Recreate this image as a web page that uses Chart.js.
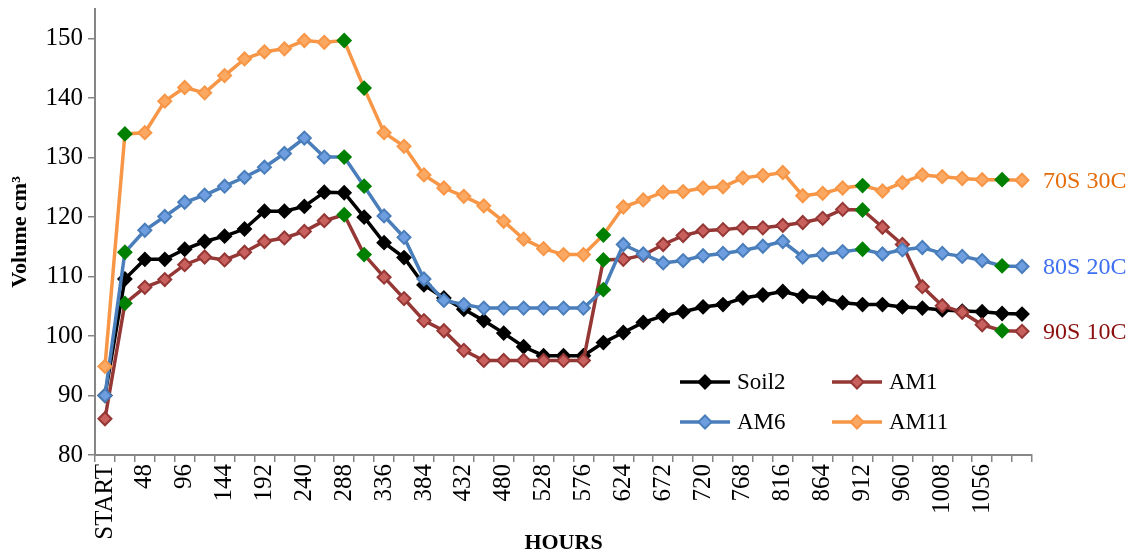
<!DOCTYPE html>
<html>
<head>
<meta charset="utf-8">
<script src="https://cdn.jsdelivr.net/npm/chart.js@4.4.1/dist/chart.umd.min.js"></script>
<style>
  body { margin: 0; background: #fff; }
  #wrap { width: 1141px; height: 557px; }
</style>
</head>
<body>
<div id="wrap"><canvas id="volumeChart" width="1141" height="557"></canvas></div>
<script>
// sampling times (every 24 h), last category has no label in the original
const hours = ['START', '24', '48', '72', '96', '120', '144', '168', '192', '216', '240', '264',
  '288', '312', '336', '360', '384', '408', '432', '456', '480', '504', '528', '552', '576',
  '600', '624', '648', '672', '696', '720', '744', '768', '792', '816', '840', '864', '888',
  '912', '936', '960', '984', '1008', '1032', '1056', '1080', ''];

const soil2 = [90, 109.6, 112.9, 112.9, 114.6, 115.9, 116.8, 118.0, 121.0, 121.0, 121.8, 124.2,
  124.1, 120.0, 115.7, 113.2, 108.6, 106.4, 104.5, 102.6, 100.5, 98.2, 96.7, 96.7, 96.7,
  98.9, 100.6, 102.3, 103.4, 104.1, 104.9, 105.3, 106.4, 106.9, 107.5, 106.7, 106.4, 105.6,
  105.3, 105.3, 104.9, 104.7, 104.4, 104.2, 104.1, 103.8, 103.7];

const am1 = [86.1, 105.5, 108.2, 109.5, 112.0, 113.3, 112.8, 114.1, 115.9, 116.5, 117.6, 119.4,
  120.4, 113.7, 109.9, 106.3, 102.6, 100.9, 97.6, 95.9, 95.9, 95.9, 95.9, 95.9, 95.9,
  112.8, 112.9, 113.6, 115.4, 116.9, 117.7, 117.9, 118.2, 118.2, 118.6, 119.1, 119.8, 121.3,
  121.2, 118.3, 115.4, 108.3, 105.1, 104.0, 101.9, 100.9, 100.8];

const am6 = [90, 114.1, 117.8, 120.1, 122.5, 123.7, 125.2, 126.7, 128.4, 130.7, 133.3, 130.1,
  130.1, 125.2, 120.2, 116.6, 109.6, 106.0, 105.3, 104.7, 104.7, 104.7, 104.7, 104.7, 104.7,
  107.8, 115.4, 113.8, 112.3, 112.7, 113.5, 113.9, 114.4, 115.1, 115.9, 113.3, 113.7, 114.2,
  114.6, 113.8, 114.5, 114.9, 113.9, 113.4, 112.7, 111.8, 111.7];

const am11 = [94.9, 134.0, 134.2, 139.5, 141.8, 140.9, 143.8, 146.6, 147.8, 148.3, 149.7, 149.4,
  149.7, 141.7, 134.2, 131.9, 127.1, 124.9, 123.5, 121.9, 119.3, 116.3, 114.7, 113.7, 113.7,
  117.0, 121.7, 122.9, 124.2, 124.3, 124.9, 125.1, 126.6, 127.0, 127.5, 123.6, 124.0, 124.9,
  125.3, 124.4, 125.8, 127.1, 126.8, 126.5, 126.3, 126.3, 126.2];

// points highlighted in green on the amended soils
const markedIdx = [1, 12, 13, 25, 38, 45];

const seriesNames = ['Soil2', 'AM1', 'AM6', 'AM11'];
const mixLabels = ['', '90S 10C', '80S 20C', '70S 30C'];

const GREEN = '#008000';
const FONT = 'Liberation Serif';

function pointColors(base, marked) {
  return hours.map((h, i) => (marked && markedIdx.includes(i)) ? GREEN : base);
}

const styles = [
  { line: '#000000', fill: '#000000', text: '#000000', marked: false },
  { line: '#953735', fill: '#c8605e', text: '#8b0f0f', marked: true },
  { line: '#4a7ebb', fill: '#6e9ee0', text: '#3d6ff0', marked: true },
  { line: '#f79646', fill: '#fba862', text: '#e46c0a', marked: true }
];

const seriesData = [soil2, am1, am6, am11];

const datasets = seriesData.map((values, i) => ({
  label: seriesNames[i],
  data: values,
  borderColor: styles[i].line,
  backgroundColor: styles[i].line,
  borderWidth: 3.5,
  tension: 0,
  pointStyle: 'rectRot',
  pointRadius: 6.5,
  pointBorderWidth: 2,
  pointBackgroundColor: pointColors(styles[i].fill, styles[i].marked),
  pointBorderColor: pointColors(styles[i].line, styles[i].marked),
  order: 4 - i
}));

function drawDiamond(ctx, x, y, r, fill, stroke) {
  ctx.beginPath();
  ctx.moveTo(x - r, y);
  ctx.lineTo(x, y - r);
  ctx.lineTo(x + r, y);
  ctx.lineTo(x, y + r);
  ctx.closePath();
  ctx.fillStyle = fill;
  ctx.fill();
  ctx.lineWidth = 2;
  ctx.strokeStyle = stroke;
  ctx.stroke();
}

// legend sits inside the plot, two columns
const insideLegend = {
  id: 'insideLegend',
  afterDatasetsDraw(chart) {
    const ctx = chart.ctx;
    const slots = [[680, 382], [832, 382], [680, 422], [832, 422]];
    chart.data.datasets.forEach((ds, i) => {
      const [x, y] = slots[i];
      ctx.save();
      ctx.strokeStyle = styles[i].line;
      ctx.lineWidth = 3.5;
      ctx.beginPath();
      ctx.moveTo(x, y);
      ctx.lineTo(x + 50, y);
      ctx.stroke();
      drawDiamond(ctx, x + 25, y, 6.5, styles[i].fill, styles[i].line);
      ctx.fillStyle = '#000';
      ctx.font = '23px "' + FONT + '"';
      ctx.textBaseline = 'middle';
      ctx.fillText(ds.label, x + 57, y + 1);
      ctx.restore();
    });
  }
};

// mix labels next to the last point of each series
const endLabels = {
  id: 'endLabels',
  afterDatasetsDraw(chart) {
    const ctx = chart.ctx;
    ctx.save();
    ctx.font = '24px "' + FONT + '"';
    ctx.textBaseline = 'middle';
    mixLabels.forEach((txt, i) => {
      if (!txt) return;
      const pts = chart.getDatasetMeta(i).data;
      const last = pts[pts.length - 1];
      ctx.fillStyle = styles[i].text;
      ctx.fillText(txt, last.x + 21, last.y + 1);
    });
    ctx.restore();
  }
};

const ctx = document.getElementById('volumeChart').getContext('2d');

new Chart(ctx, {
  type: 'line',
  data: { labels: hours, datasets: datasets },
  options: {
    responsive: false,
    animation: false,
    devicePixelRatio: 1,
    events: [],
    layout: { padding: { left: 0, right: 109, top: 9, bottom: 0 } },
    plugins: {
      legend: { display: false },
      tooltip: { enabled: false }
    },
    scales: {
      x: {
        offset: true,
        grid: { offset: true, drawOnChartArea: false, color: '#868686', lineWidth: 1.5, tickLength: 7 },
        border: { color: '#868686', width: 2 },
        ticks: {
          autoSkip: false,
          minRotation: 90,
          maxRotation: 90,
          padding: 2,
          color: '#000',
          font: { family: FONT, size: 25 },
          callback: function (value, index) {
            return index % 2 === 0 ? this.getLabelForValue(value) : '';
          }
        },
        title: {
          display: true,
          text: 'HOURS',
          color: '#000',
          font: { family: FONT, size: 22, weight: 'bold' },
          padding: { top: 0, bottom: 0 }
        },
        afterFit: (scale) => {
          scale.height = 102;
          scale.paddingLeft = 0;
          scale.paddingRight = 0;
        }
      },
      y: {
        min: 80,
        max: 155,
        ticks: {
          stepSize: 10,
          padding: 5,
          color: '#000',
          font: { family: FONT, size: 25 }
        },
        grid: { drawOnChartArea: false, color: '#868686', lineWidth: 1.5, tickLength: 7 },
        border: { color: '#868686', width: 2 },
        title: {
          display: true,
          text: 'Volume cm³',
          color: '#000',
          font: { family: FONT, size: 22, weight: 'bold' },
          padding: { top: 7, bottom: 0 }
        },
        afterBuildTicks: (scale) => {
          scale.ticks = scale.ticks.filter(t => t.value <= 150);
        },
        afterFit: (scale) => {
          scale.width = 95;
          scale.paddingTop = 0;
          scale.paddingBottom = 0;
        }
      }
    }
  },
  plugins: [insideLegend, endLabels]
});
</script>
</body>
</html>
